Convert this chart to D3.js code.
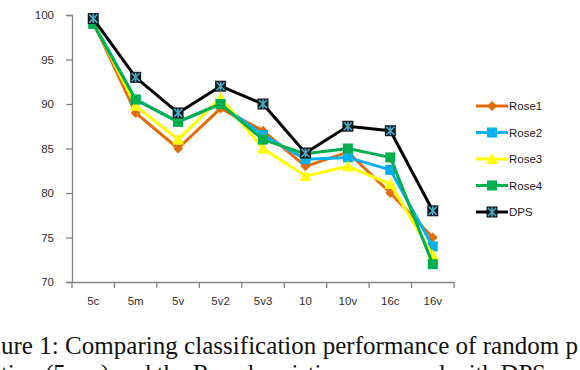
<!DOCTYPE html>
<html><head><meta charset="utf-8">
<script src="https://cdn.jsdelivr.net/npm/d3@7"></script>
<style>
html,body{margin:0;padding:0;background:#fff;overflow:hidden;}
svg{display:block;}
</style></head>
<body>
<svg id="chart" width="580" height="370"></svg>
<script>
const categories = ["5c","5m","5v","5v2","5v3","10","10v","16c","16v"];
const rose1 = [99.2, 89.0, 85.0, 89.5, 87.0, 83.0, 84.6, 80.0, 75.0];
const rose2 = [99.2, 90.5, 88.0, 90.0, 86.5, 83.8, 84.0, 82.6, 74.0];
const rose3 = [99.2, 89.8, 86.0, 90.7, 85.0, 81.9, 83.0, 81.0, 73.0];
const rose4 = [99.0, 90.5, 88.0, 90.0, 86.0, 84.4, 85.0, 84.0, 72.0];
const dps   = [99.6, 93.0, 89.0, 92.0, 90.0, 84.5, 87.5, 87.0, 78.0];
const seriesNames = ["Rose1","Rose2","Rose3","Rose4","DPS"];
const yTicks = [70,75,80,85,90,95,100];
const captionLines = [
  "ure 1: Comparing classification performance of random p",
  "tion (5c\u2013v) and the Rose heuristics compared with DPS"
];

const series = [
  {name: seriesNames[0], values: rose1, color: "#E46C0A", marker: "diamond"},
  {name: seriesNames[1], values: rose2, color: "#00B0F0", marker: "square"},
  {name: seriesNames[2], values: rose3, color: "#FFFF00", marker: "triangle"},
  {name: seriesNames[3], values: rose4, color: "#00B050", marker: "square"},
  {name: seriesNames[4], values: dps,   color: "#000000", marker: "xsquare"}
];

const svg = d3.select("#chart");
const x = d3.scaleBand().domain(categories).range([72, 454]);
const y = d3.scaleLinear().domain([70, 100]).range([282, 15]);
const axisColor = "#868686";
const labelFont = "'Liberation Sans', Arial, sans-serif";

// Y axis
const yAxis = svg.append("g").attr("transform", "translate(72,0)")
  .call(d3.axisLeft(y).tickValues(yTicks).tickSize(6).tickPadding(12).tickFormat(d3.format("d")));
yAxis.select(".domain").attr("stroke", axisColor).attr("stroke-width", 1.3);
yAxis.selectAll(".tick line").attr("stroke", axisColor).attr("stroke-width", 1.3);
yAxis.selectAll(".tick text").attr("font-family", labelFont).attr("font-size", 11.5).attr("fill", "#303030");

// X axis
const xAxis = svg.append("g").attr("transform", "translate(0,282)")
  .call(d3.axisBottom(x).tickSize(0).tickPadding(15));
xAxis.select(".domain").attr("stroke", axisColor).attr("stroke-width", 1.3);
xAxis.selectAll(".tick text").attr("font-family", labelFont).attr("font-size", 11.5).attr("fill", "#303030");
const bounds = categories.map(c => x(c)).concat([x.range()[1]]);
svg.append("g").selectAll("line").data(bounds).join("line")
  .attr("x1", d => d).attr("x2", d => d).attr("y1", 282).attr("y2", 288)
  .attr("stroke", axisColor).attr("stroke-width", 1.3);

const cx = c => x(c) + x.bandwidth() / 2;

function drawMarker(g, type, color, px, py) {
  if (type === "diamond") {
    g.append("path").attr("d", `M${px},${py-5}L${px+5},${py}L${px},${py+5}L${px-5},${py}Z`).attr("fill", color);
  } else if (type === "square") {
    g.append("rect").attr("x", px - 5).attr("y", py - 5).attr("width", 10).attr("height", 10).attr("fill", color);
  } else if (type === "triangle") {
    g.append("path").attr("d", `M${px},${py-6}L${px+6},${py+5}L${px-6},${py+5}Z`).attr("fill", color);
  } else if (type === "xsquare") {
    g.append("rect").attr("x", px - 5.5).attr("y", py - 5.5).attr("width", 11).attr("height", 11).attr("fill", "#0d1a20");
    g.append("path").attr("d", `M${px-4},${py-4}L${px+4},${py+4}M${px+4},${py-4}L${px-4},${py+4}M${px},${py-4.5}L${px},${py+4.5}`)
      .attr("stroke", "#4BACC6").attr("stroke-width", 1.6);
  }
}

const line = d3.line().x((d, i) => cx(categories[i])).y(d => y(d));
series.forEach(s => {
  const g = svg.append("g");
  g.append("path").datum(s.values).attr("d", line).attr("fill", "none")
    .attr("stroke", s.color).attr("stroke-width", 3).attr("stroke-linejoin", "round");
  s.values.forEach((v, i) => drawMarker(g, s.marker, s.color, cx(categories[i]), y(v)));
});

// Legend
const legY = d3.scalePoint().domain(seriesNames).range([106, 212]);
series.forEach(s => {
  const g = svg.append("g");
  const ly = legY(s.name);
  g.append("line").attr("x1", 476).attr("x2", 508).attr("y1", ly).attr("y2", ly)
    .attr("stroke", s.color).attr("stroke-width", 3);
  drawMarker(g, s.marker, s.color, 492, ly);
  g.append("text").attr("x", 509).attr("y", ly + 4).text(s.name)
    .attr("font-family", labelFont).attr("font-size", 11.5).attr("fill", "#202020");
});

// Caption (figure caption, cropped in the original)
const capFont = "'Liberation Serif', 'Times New Roman', serif";
svg.append("text").attr("x", 1).attr("y", 354)
  .attr("font-family", capFont).attr("font-size", 25).attr("fill", "#111")
  .attr("textLength", 577).attr("lengthAdjust", "spacing")
  .text(captionLines[0]);
svg.append("text").attr("x", 1).attr("y", 382)
  .attr("font-family", capFont).attr("font-size", 25).attr("fill", "#111")
  .attr("textLength", 545).attr("lengthAdjust", "spacing")
  .text(captionLines[1]);
</script>
</body></html>
